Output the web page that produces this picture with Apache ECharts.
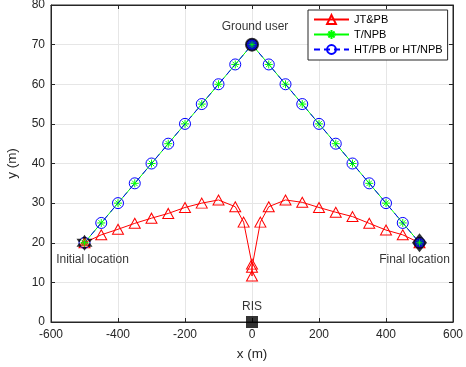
<!DOCTYPE html>
<html><head><meta charset="utf-8">
<script src="https://cdn.jsdelivr.net/npm/echarts@6/dist/echarts.min.js"></script>
<style>html,body{margin:0;padding:0;background:#fff}#c{width:466px;height:367px}</style>
</head><body><div id="c"></div>
<script>
// Data
const jtpbX = [-500,-450,-400,-350,-300,-250,-200,-150,-100,-50,-25,0,0,0,25,50,100,150,200,250,300,350,400,450,500];
const jtpbY = [20,22,23.4,24.9,26.2,27.4,28.9,30.0,30.8,29.1,25.2,14.6,11.6,13.8,25.2,29.1,30.8,30.2,28.9,27.7,26.6,24.9,23.2,22.0,20];
const pathX = [-500,-450,-400,-350,-300,-250,-200,-150,-100,-50,0,50,100,150,200,250,300,350,400,450,500];
const tnpbY = [20,25,30,35,40,45,50,55,60,65,70,65,60,55,50,45,40,35,30,25,20];
const htY   = [20,25,30,35,40,45,50,55,60,65,70,65,60,55,50,45,40,35,30,25,20];
const seriesNames = ['JT&PB','T/NPB','HT/PB or HT/NPB'];
const seriesColors = ['#ff0000','#00ff00','#0000ff'];
const initialLoc = [-500,20];
const finalLoc = [500,20];
const groundUser = [0,70];
const risLoc = [0,0];
const xTicks = {min:-600,max:600,step:200};
const yTicks = {min:0,max:80,step:10};

const zip = (xs, ys) => xs.map((x,i)=>[x,ys[i]]);
const FONT = 'Liberation Sans, Arial, Helvetica, sans-serif';
const AX = '#262626';
const star = 'path://M0,-10L0,10M-10,0L10,0M-7,-7L7,7M-7,7L7,-7';
const hexagram = 'path://M0,-10L8.66,5L-8.66,5Z M0,10L8.66,-5L-8.66,-5Z';

const chart = echarts.init(document.getElementById('c'), null, {renderer:'canvas'});
const axisCommon = {
  axisLine:{show:true,onZero:false,lineStyle:{color:AX,width:1}},
  axisTick:{show:true,inside:true,length:4,lineStyle:{color:AX}},
  axisLabel:{color:AX,fontFamily:FONT,fontSize:12},
  nameTextStyle:{color:AX,fontFamily:FONT,fontSize:13.5},
  splitLine:{show:false}
};
chart.setOption({
  animation:false,
  backgroundColor:'#fff',
  grid:{left:51,right:13,top:5,bottom:45,containLabel:false,outerBoundsMode:'none',
        show:true,borderColor:AX,borderWidth:1,backgroundColor:'transparent'},
  legend:{
    data:seriesNames,
    orient:'vertical',left:308,top:10,
    backgroundColor:'#fff',borderColor:AX,borderWidth:1,borderRadius:0,
    padding:[4,5,5,5],itemGap:4,itemWidth:35,itemHeight:11,
    textStyle:{color:'#000',fontFamily:FONT,fontSize:11}
  },
  xAxis:[
    Object.assign({}, axisCommon, {type:'value',min:xTicks.min,max:xTicks.max,interval:xTicks.step,
      name:'x (m)',nameLocation:'middle',nameGap:25,
      axisLabel:Object.assign({},axisCommon.axisLabel,{margin:7}),
      splitLine:{show:true,lineStyle:{color:'#e6e6e6',width:1}}}),
    Object.assign({}, axisCommon, {type:'value',position:'top',min:xTicks.min,max:xTicks.max,interval:xTicks.step,
      axisLabel:{show:false}})
  ],
  yAxis:[
    Object.assign({}, axisCommon, {type:'value',min:yTicks.min,max:yTicks.max,interval:yTicks.step,
      name:'y (m)',nameLocation:'middle',nameGap:32,
      axisLabel:Object.assign({},axisCommon.axisLabel,{margin:6}),
      splitLine:{show:true,lineStyle:{color:'#e6e6e6',width:1}}}),
    Object.assign({}, axisCommon, {type:'value',position:'right',min:yTicks.min,max:yTicks.max,interval:yTicks.step,
      axisLabel:{show:false}})
  ],
  series:[
    {name:seriesNames[0],type:'line',data:zip(jtpbX,jtpbY),
     symbol:'triangle',symbolSize:[11,10],showAllSymbol:true,
     lineStyle:{color:seriesColors[0],width:1},
     itemStyle:{color:'rgba(255,255,255,0)',borderColor:seriesColors[0],borderWidth:1},z:3},
    {name:seriesNames[1],type:'line',data:zip(pathX,tnpbY),
     symbol:star,symbolSize:8,showAllSymbol:true,
     lineStyle:{color:seriesColors[1],width:1},
     itemStyle:{color:seriesColors[1],borderColor:seriesColors[1],borderWidth:1},z:4},
    {name:seriesNames[2],type:'line',data:zip(pathX,htY),
     symbol:'circle',symbolSize:11,showAllSymbol:true,
     lineStyle:{color:seriesColors[2],width:1,type:[6,4]},
     itemStyle:{color:'rgba(255,255,255,0)',borderColor:seriesColors[2],borderWidth:1},z:5},
    // special markers
    {type:'scatter',data:[initialLoc],symbol:hexagram,symbolSize:16,itemStyle:{color:'#000'},z:6,
     label:{show:true,formatter:'Initial location',position:'bottom',distance:3,offset:[8,0],color:'#000',fontFamily:FONT,fontSize:12}},
    {type:'scatter',data:[initialLoc],symbol:'triangle',symbolSize:[8,7],itemStyle:{color:'#ff0000'},z:7},
    {type:'scatter',data:[finalLoc],symbol:'diamond',symbolSize:[15,19],itemStyle:{color:'#000'},z:6,
     label:{show:true,formatter:'Final location',position:'bottom',distance:1,offset:[-5,0],color:'#000',fontFamily:FONT,fontSize:12}},
    {type:'scatter',data:[finalLoc],symbol:'circle',symbolSize:9,itemStyle:{color:'#0000ff'},z:7},
    {type:'scatter',data:[groundUser],symbol:'circle',symbolSize:14,itemStyle:{color:'#000'},z:6,
     label:{show:true,formatter:'Ground user',position:'top',distance:5,offset:[3,0],color:'#000',fontFamily:FONT,fontSize:12}},
    {type:'scatter',data:[groundUser],symbol:'circle',symbolSize:10,itemStyle:{color:'#0000ff'},z:7},
    {type:'scatter',data:[initialLoc,finalLoc,groundUser],symbol:star,symbolSize:7,itemStyle:{color:'#00ff00',borderColor:'#00ff00',borderWidth:1},z:8},
    {type:'scatter',data:[risLoc],symbol:'rect',symbolSize:12,itemStyle:{color:'#000'},z:6,clip:false,
     label:{show:true,formatter:'RIS',position:'top',distance:3,color:'#000',fontFamily:FONT,fontSize:12}}
  ]
});
</script></body></html>
